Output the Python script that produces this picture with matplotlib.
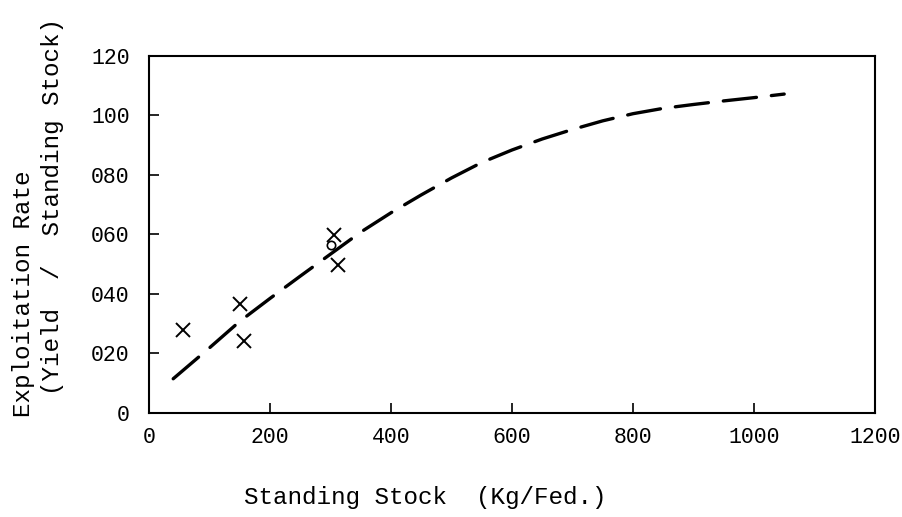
import matplotlib
matplotlib.use("Agg")
import matplotlib.pyplot as plt

# observed points (crosses)
stock_obs = [56, 151, 157, 305, 313]
rate_obs = [28.0, 36.8, 24.3, 59.7, 49.9]

# point drawn as a small open circle
stock_circ = [301]
rate_circ = [56.3]

# fitted curve
stock_fit = [40, 100, 150, 200, 250, 300, 350, 400, 450, 500, 550,
             600, 650, 700, 750, 800, 850, 900, 950, 1000, 1050]
rate_fit = [11.5, 21.9, 30.8, 38.5, 46.0, 53.4, 60.8, 67.3, 73.3, 79.0, 84.2,
            88.4, 92.1, 95.3, 98.2, 100.6, 102.4, 103.7, 104.9, 106.0, 107.2]

xticks = [0, 200, 400, 600, 800, 1000, 1200]
yticks = [0, 20, 40, 60, 80, 100, 120]
ytick_labels = ["0", "020", "040", "060", "080", "100", "120"]

plt.rcParams['font.family'] = ['Liberation Mono', 'DejaVu Sans Mono']

fig = plt.figure(figsize=(9.02, 5.17), dpi=100)
ax = fig.add_axes([0.1652, 0.2012, 0.8048, 0.6905])

ax.plot(stock_fit, rate_fit, color='black', lw=2.4, ls=(0, (10, 4.5)),
        dash_capstyle='round')
ax.plot(stock_obs, rate_obs, ls='none', marker='x', ms=10, mew=1.4, color='black')
ax.plot(stock_circ, rate_circ, ls='none', marker='o', ms=6, mew=1.2,
        mfc='none', mec='black')

ax.set_xlim(0, 1200)
ax.set_ylim(0, 120)
ax.set_xticks(xticks)
ax.set_xticklabels([str(v) for v in xticks])
ax.set_yticks(yticks)
ax.set_yticklabels(ytick_labels)
ax.tick_params(direction='in', length=7, width=1.2, labelsize=15.5)
ax.tick_params(axis='x', pad=10)
ax.tick_params(axis='y', pad=14)
for s in ax.spines.values():
    s.set_linewidth(1.5)

ax.set_xlabel("Standing Stock  (Kg/Fed.)", fontsize=17.5)
ax.xaxis.set_label_coords(0.381, -0.205)

fig.text(0.026, 0.193, "Exploitation Rate", rotation=90, fontsize=17.5,
         ha='center', va='bottom')
fig.text(0.058, 0.236, "(Yield  /  Standing Stock)", rotation=90, fontsize=17.5,
         ha='center', va='bottom')

fig.savefig("out.png", dpi=100)
